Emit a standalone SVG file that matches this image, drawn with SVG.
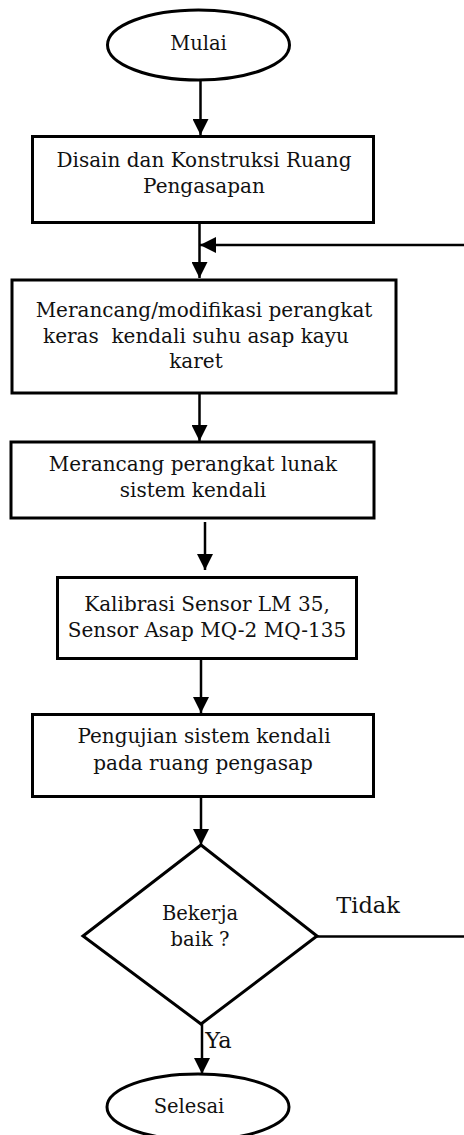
<svg xmlns="http://www.w3.org/2000/svg" width="464" height="1135" viewBox="0 0 464 1135">
<style>
.shape{fill:#fff;stroke:#000;stroke-width:3}
.ln{fill:none;stroke:#000;stroke-width:2.5}
.t{font-family:"DejaVu Serif","Liberation Serif",serif;font-size:20px;fill:#111;text-anchor:middle;white-space:pre}
.s{font-size:19.5px}
.l{font-size:22.5px}
</style>
<defs>
<marker id="ah" viewBox="0 0 10 10" refX="10" refY="5" markerWidth="16" markerHeight="16" markerUnits="userSpaceOnUse" orient="auto">
<path d="M0,0 L10,5 L0,10 Z" fill="#000"/>
</marker>
</defs>
<rect width="464" height="1135" fill="#fff"/>
<g id="connectors">
<line class="ln" x1="200.5" y1="80" x2="200.5" y2="135" marker-end="url(#ah)"/>
<line class="ln" x1="199.5" y1="223" x2="199.5" y2="278" marker-end="url(#ah)"/>
<line class="ln" x1="464" y1="245" x2="200" y2="245" marker-end="url(#ah)"/>
<line class="ln" x1="199.5" y1="393" x2="199.5" y2="441" marker-end="url(#ah)"/>
<line class="ln" x1="205" y1="522" x2="205" y2="570" marker-end="url(#ah)"/>
<line class="ln" x1="201" y1="659" x2="201" y2="713" marker-end="url(#ah)"/>
<line class="ln" x1="201" y1="797" x2="201" y2="845" marker-end="url(#ah)"/>
<line class="ln" x1="317" y1="936.5" x2="464" y2="936.5"/>
<line class="ln" x1="202" y1="1024" x2="202" y2="1074" marker-end="url(#ah)"/>
<text class="t l" x="368" y="913">Tidak</text>
<text class="t l" x="218.5" y="1048">Ya</text>
</g>
<g id="mulai">
<ellipse class="shape" cx="198.5" cy="45" rx="91" ry="35"/>
<text class="t s" x="198.5" y="50">Mulai</text>
</g>
<g id="disain">
<rect class="shape" x="32.5" y="136.5" width="341" height="86"/>
<text class="t" x="204" y="167">Disain dan Konstruksi Ruang</text>
<text class="t" x="204" y="193">Pengasapan</text>
</g>
<g id="hardware">
<rect class="shape" x="12" y="280" width="384" height="113"/>
<text class="t" x="204" y="317">Merancang/modifikasi perangkat</text>
<text class="t" x="196" y="343" xml:space="preserve">keras  kendali suhu asap kayu</text>
<text class="t" x="196" y="368">karet</text>
</g>
<g id="software">
<rect class="shape" x="11" y="442" width="363" height="76"/>
<text class="t" x="193" y="471">Merancang perangkat lunak</text>
<text class="t" x="193" y="497">sistem kendali</text>
</g>
<g id="kalibrasi">
<rect class="shape" x="57.5" y="577.5" width="299" height="81"/>
<text class="t" x="207" y="611">Kalibrasi Sensor LM 35,</text>
<text class="t" x="207" y="637">Sensor Asap MQ-2 MQ-135</text>
</g>
<g id="pengujian">
<rect class="shape" x="32.5" y="714.5" width="341" height="82"/>
<text class="t" x="204" y="743">Pengujian sistem kendali</text>
<text class="t" x="203" y="770">pada ruang pengasap</text>
</g>
<g id="decision">
<polygon class="shape" points="201,845 317,936 201,1024 83,936"/>
<text class="t s" x="200" y="920">Bekerja</text>
<text class="t s" x="200" y="946">baik ?</text>
</g>
<g id="selesai">
<ellipse class="shape" cx="198" cy="1107" rx="91" ry="33"/>
<text class="t s" x="189" y="1113">Selesai</text>
</g>
</svg>
